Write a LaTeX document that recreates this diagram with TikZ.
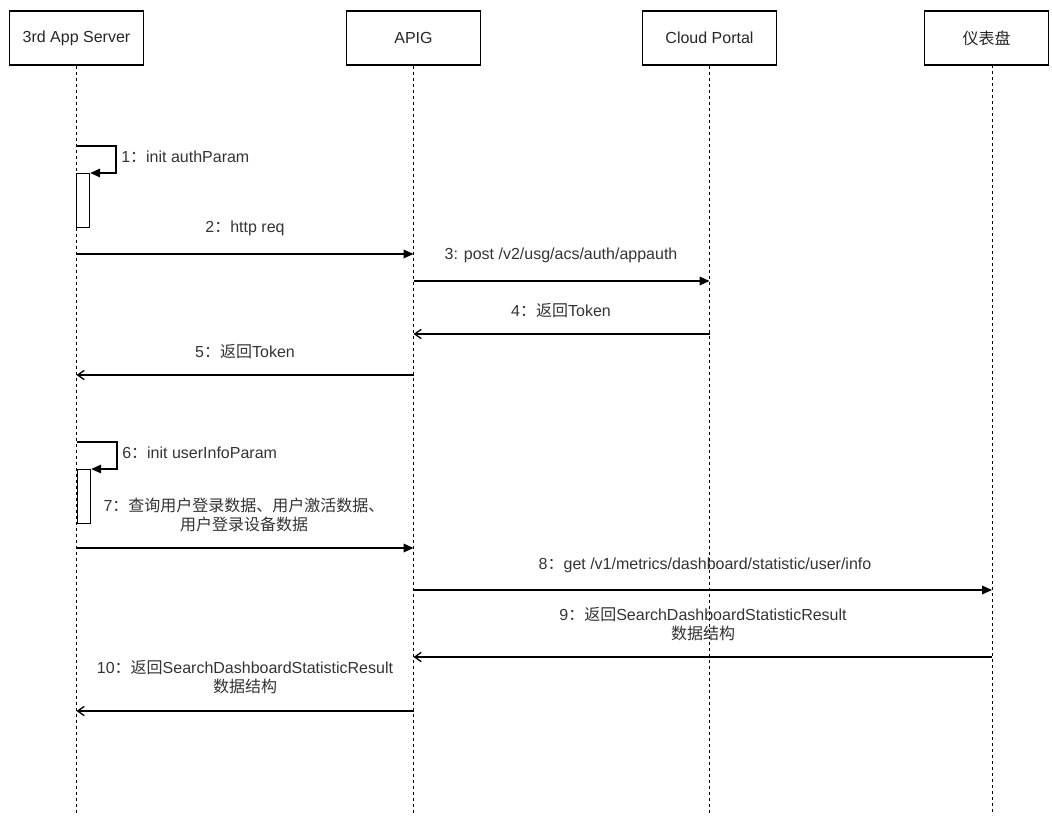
\documentclass[tikz,border=0pt]{standalone}
\usepackage{fontspec}
\setmainfont{Liberation Sans}
\newfontfamily\cjk{Noto Sans CJK SC}
\usepackage{tikz}
\usetikzlibrary{arrows.meta,positioning,calc}

\begin{document}
\begin{tikzpicture}[x=0.75pt,y=-0.75pt,
actor/.style={rectangle,draw,line width=0.9pt,minimum width=101pt,minimum height=40.5pt,inner sep=2pt,
text=black!85,font=\fontsize{12}{14}\selectfont},
life/.style={dash pattern=on 2.25pt off 2.25pt,line width=0.7pt},
act/.style={rectangle,draw,line width=0.9pt,fill=white,minimum width=9.75pt,minimum height=40.5pt,inner sep=0pt},
call/.style={-{Triangle[length=7.5pt,width=6.5pt]},line width=1pt},
reply/.style={-{Straight Barb[length=5pt,width=7pt]},line width=1pt},
msg/.style={font=\fontsize{12}{14.5}\selectfont,text=black!80,align=center,inner sep=0pt}]
\useasboundingbox (0,0) rectangle (1052,816);
% lifeline heads
\node[actor] (srv) at (76.5,38) {3rd App Server};
\node[actor] (apig) at (413.5,38) {APIG};
\node[actor] (portal) at (709.5,38) {Cloud Portal};
\node[actor,minimum width=93pt] (dash) at (986.5,38) {\cjk 仪表盘};
\coordinate (dashtop) at (992,65);
\foreach \n in {srv,apig,portal}
  \draw[life] (\n.south) -- (\n.south |- 0,815);
\draw[life] (dashtop) -- (dashtop |- 0,815);
% activations
\node[act,anchor=north west] (act1) at (76,173) {};
\node[act,anchor=north west] (act2) at (77,469) {};
% 1
\coordinate (s1) at (77,146);
\draw[call] (s1) -- ++(39,0) |- (act1.north east);
\node[msg,anchor=west] (l1) at (121,157) {1{\cjk ：}init authParam};
% 2
\draw[call] (srv |- 0,254) -- (apig |- 0,254);
\node[msg] (l2) at (245,228) {2{\cjk ：}http req};
% 3
\draw[call] (apig |- 0,281) -- (portal |- 0,281);
\node[msg] (l3) at (561,255) {3: post /v2/usg/acs/auth/appauth};
% 4
\draw[reply] (portal |- 0,334) -- (apig |- 0,334);
\node[msg] (l4) at (561,311) {4{\cjk ：返回}Token};
% 5
\draw[reply] (apig |- 0,375) -- (srv |- 0,375);
\node[msg] (l5) at (245,352) {5{\cjk ：返回}Token};
% 6
\coordinate (s6) at (77,442);
\draw[call] (s6) -- ++(40,0) |- (act2.north east);
\node[msg,anchor=west] (l6) at (122,453) {6{\cjk ：}init userInfoParam};
% 7
\draw[call] (srv |- 0,548) -- (apig |- 0,548);
\node[msg] (l7) at (244,515) {7{\cjk ：查询用户登录数据、用户激活数据、}\\{\cjk 用户登录设备数据}};
% 8
\draw[call] (apig |- 0,590) -- (dashtop |- 0,590);
\node[msg] (l8) at (705,565) {8{\cjk ：}get /v1/metrics/dashboard/statistic/user/info};
% 9
\draw[reply] (dashtop |- 0,657) -- (apig |- 0,657);
\node[msg] (l9) at (703,624) {9{\cjk ：返回}SearchDashboardStatisticResult\\{\cjk 数据结构}};
% 10
\draw[reply] (apig |- 0,711) -- (srv |- 0,711);
\node[msg] (l10) at (245,677) {10{\cjk ：返回}SearchDashboardStatisticResult\\{\cjk 数据结构}};
\end{tikzpicture}
\end{document}
